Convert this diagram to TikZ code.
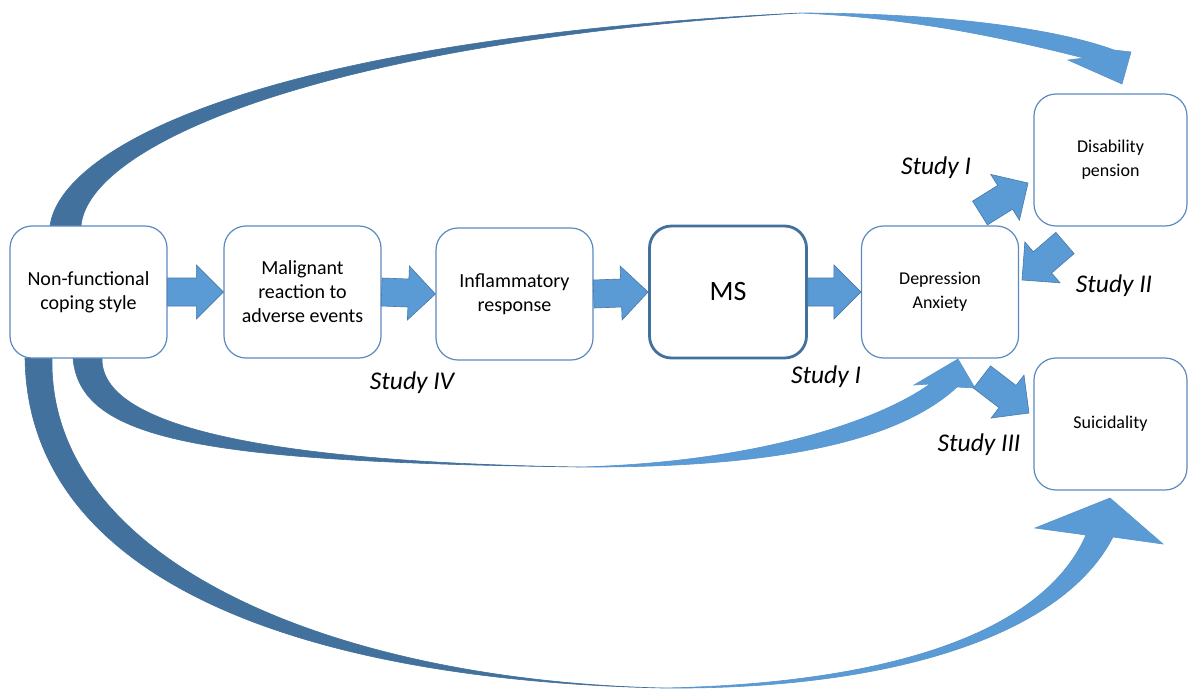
\documentclass[tikz,border=0pt]{standalone}
\usepackage{fontspec}
\setmainfont{Carlito}
\usetikzlibrary{calc}
\definecolor{bdark}{HTML}{41719C}
\definecolor{blight}{HTML}{5B9BD5}
\definecolor{bline}{HTML}{5A8AC0}
\tikzset{
  box/.style={draw=bline, line width=1.2pt, rounded corners=22pt, fill=white,
    minimum width=157pt, minimum height=132pt, align=center, text=black,
    inner sep=2pt},
  bigtxt/.style={font=\fontsize{20}{24}\selectfont},
  smalltxt/.style={font=\fontsize{18}{24}\selectfont},
  studylbl/.style={font=\fontsize{25.5}{28}\selectfont\itshape, text=black},
  barrowstyle/.style={fill=blight, draw=bdark!80!blight, line width=0.6pt},
  darkband/.style={fill=bdark, draw=bdark, line width=0.6pt},
  lightband/.style={fill=blight, draw=blight!85!bdark, line width=0.6pt},
}
\newcommand\blockarrow[2]{%
  \path[barrowstyle] let \p1=#1, \p2=#2,
     \n1={atan2(\y2-\y1,\x2-\x1)},
     \n2={veclen(\x2-\x1,\y2-\y1)-27}
   in ($(\p1)+(\n1+90:14)$) -- ++(\n1:\n2) -- ++(\n1+90:13) -- (\p2)
      -- ($(\p1)+(\n1:\n2)+(\n1-90:27)$) -- ++(\n1+90:13) -- ++(\n1+180:\n2) -- cycle;}
\begin{document}
\begin{tikzpicture}[x=1pt,y=1pt]
\useasboundingbox (0,0) rectangle (1189,-689);
\fill[white] (0,0) rectangle (1189,-689);

% curved arrows (drawn first, boxes on top)
% top: coping -> disability pension
\path[darkband] (50,-226) .. controls (60,-150) and (250,-40) .. (800,-13)
   .. controls (320,-42) and (88,-145) .. (81,-226) -- cycle;
\path[lightband] (800,-13) .. controls (950,-13) and (1060,-30) .. (1114,-50)
   -- (1131,-52) -- (1122,-84) -- (1068,-60) -- (1084,-58)
   .. controls (1020,-42) and (920,-18) .. (800,-13) -- cycle;
% middle: coping -> depression
\path[darkband] (73,-358) .. controls (80,-440) and (200,-462) .. (580,-467)
   .. controls (260,-462) and (100,-425) .. (102,-358) -- cycle;
\path[lightband] (580,-467) .. controls (760,-462) and (880,-420) .. (930,-384)
   -- (914,-385) -- (958,-359) -- (975,-388) -- (957,-387)
   .. controls (900,-440) and (780,-468) .. (580,-467) -- cycle;
% bottom: coping -> suicidality
\path[darkband] (25,-358) .. controls (28,-580) and (300,-680) .. (663,-688)
   .. controls (330,-680) and (48,-560) .. (52,-358) -- cycle;
\path[lightband] (663,-688) .. controls (870,-684) and (1040,-640) .. (1086,-535)
   -- (1035,-528) -- (1110,-498) -- (1163,-544) -- (1113,-537)
   .. controls (1060,-640) and (880,-690) .. (663,-688) -- cycle;

% boxes
\node[box, bigtxt] (A) at (88.5,-292) {Non-functional\\coping style};
\node[box, bigtxt] (B) at (302.5,-292) {Malignant\\reaction to\\adverse events};
\node[box, bigtxt] (C) at (514.5,-294) {Inflammatory\\response};
\node[box, draw=bdark, line width=2.8pt, font=\fontsize{28}{32}\selectfont] (D) at (728,-292) {MS};
\node[box, smalltxt] (E) at (940,-292) {Depression\\Anxiety};
\node[box, smalltxt, minimum width=153pt] (F) at (1110.5,-160) {Disability\\pension};
\node[box, smalltxt, minimum width=153pt] (G) at (1110.5,-424) {Suicidality};

% straight block arrows
\blockarrow{(A.east)}{(B.west)}
\blockarrow{(B.east)}{(C.west)}
\blockarrow{(C.east)}{(D.west)}
\blockarrow{(D.east)}{(E.west)}

% diagonal block arrows
\coordinate (t1) at (980,-213);
\coordinate (h1) at (1028,-183);
\coordinate (t2) at (1065,-243);
\coordinate (h2) at (1022,-280);
\coordinate (t3) at (982,-377);
\coordinate (h3) at (1029,-413);
\blockarrow{(t1)}{(h1)}
\blockarrow{(t2)}{(h2)}
\blockarrow{(t3)}{(h3)}

% study labels
\node[studylbl] (s1) at (936,-168) {Study I};
\node[studylbl] (s2) at (1114,-286) {Study II};
\node[studylbl] (s3) at (979,-445) {Study III};
\node[studylbl] (s4) at (412,-383) {Study IV};
\node[studylbl] (s5) at (826,-377) {Study I};
\end{tikzpicture}
\end{document}
